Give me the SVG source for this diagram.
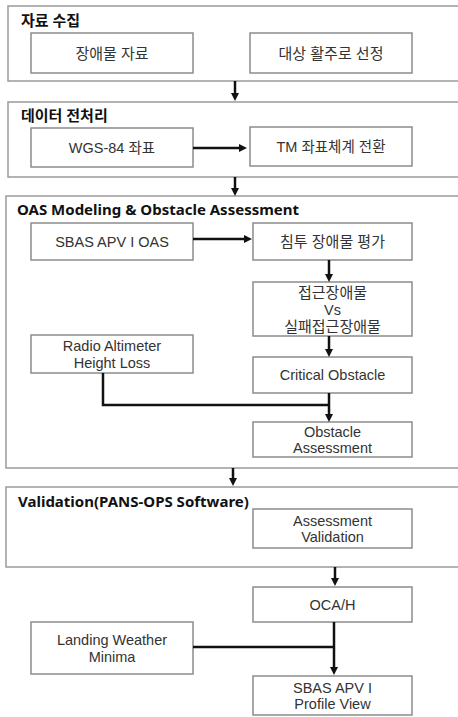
<svg xmlns="http://www.w3.org/2000/svg" width="458" height="717" viewBox="0 0 458 717">
<style>
  .bg { fill: #ffffff; }
  .group { fill: #ffffff; stroke: #9a9a9a; stroke-width: 1.5; }
  .box { fill: #ffffff; stroke: #8c8c8c; stroke-width: 1.5; }
  .title { font-family: "Noto Sans", "Noto Sans CJK KR", sans-serif; font-size: 15px; font-weight: bold; fill: #111111; }
  .lbl { font-family: "Liberation Sans", "Noto Sans CJK KR", sans-serif; font-size: 14.5px; fill: #333333; text-anchor: middle; dominant-baseline: central; }
  .ko { font-size: 15px; }
  .conn { fill: none; stroke: #111111; stroke-width: 2.5; }
</style>
<defs>
  <marker id="ah" viewBox="0 0 8 8" refX="2" refY="4" markerWidth="8" markerHeight="8" markerUnits="userSpaceOnUse" orient="auto">
    <path d="M0,0 L8,4 L0,8 z" fill="#111111"/>
  </marker>
</defs>
<rect class="bg" x="0" y="0" width="458" height="717"/>

<g id="group-collect">
  <rect class="group" x="8" y="6" width="460" height="75"/>
  <text class="title" x="21" y="26">자료 수집</text>
</g>
<g id="group-preprocess">
  <rect class="group" x="8" y="102" width="460" height="75"/>
  <text class="title" x="21" y="121">데이터 전처리</text>
</g>
<g id="group-oas">
  <rect class="group" x="6" y="196" width="462" height="272"/>
  <text class="title" x="17" y="215">OAS Modeling &amp; Obstacle Assessment</text>
</g>
<g id="group-validation">
  <rect class="group" x="6" y="487" width="462" height="80"/>
  <text class="title" x="18" y="507">Validation(PANS-OPS Software)</text>
</g>

<g id="n-obstacle-data">
  <rect class="box" x="31" y="33" width="162" height="40"/>
  <text class="lbl ko" x="112" y="53">장애물 자료</text>
</g>
<g id="n-runway">
  <rect class="box" x="250" y="33" width="162" height="40"/>
  <text class="lbl ko" x="331" y="53">대상 활주로 선정</text>
</g>
<g id="n-wgs84">
  <rect class="box" x="31" y="128" width="162" height="39"/>
  <text class="lbl" x="112" y="147.5">WGS-84 좌표</text>
</g>
<g id="n-tm">
  <rect class="box" x="250" y="127" width="162" height="39"/>
  <text class="lbl" x="331" y="146.5">TM 좌표체계 전환</text>
</g>
<g id="n-sbas-oas">
  <rect class="box" x="31" y="223" width="162" height="37"/>
  <text class="lbl" x="112" y="241.5">SBAS APV I OAS</text>
</g>
<g id="n-penetration">
  <rect class="box" x="253" y="223" width="159" height="37"/>
  <text class="lbl ko" x="332.5" y="241.5">침투 장애물 평가</text>
</g>
<g id="n-approach-vs-missed">
  <rect class="box" x="253" y="282" width="159" height="54"/>
  <text class="lbl ko" x="332.5" y="292.5">접근장애물</text>
  <text class="lbl" x="332.5" y="309.5">Vs</text>
  <text class="lbl ko" x="332.5" y="326.5">실패접근장애물</text>
</g>
<g id="n-radio-altimeter">
  <rect class="box" x="31" y="335" width="162" height="38"/>
  <text class="lbl" x="112" y="345.5">Radio Altimeter</text>
  <text class="lbl" x="112" y="362.5">Height Loss</text>
</g>
<g id="n-critical">
  <rect class="box" x="253" y="357" width="159" height="36"/>
  <text class="lbl" x="332.5" y="375">Critical Obstacle</text>
</g>
<g id="n-obstacle-assessment">
  <rect class="box" x="253" y="422" width="159" height="35"/>
  <text class="lbl" x="332.5" y="431.5">Obstacle</text>
  <text class="lbl" x="332.5" y="448">Assessment</text>
</g>
<g id="n-assessment-validation">
  <rect class="box" x="253" y="509" width="159" height="39"/>
  <text class="lbl" x="332.5" y="520.5">Assessment</text>
  <text class="lbl" x="332.5" y="537">Validation</text>
</g>
<g id="n-ocah">
  <rect class="box" x="253" y="587" width="159" height="35"/>
  <text class="lbl" x="332.5" y="605">OCA/H</text>
</g>
<g id="n-landing-minima">
  <rect class="box" x="31" y="622" width="162" height="52"/>
  <text class="lbl" x="112" y="639.5">Landing Weather</text>
  <text class="lbl" x="112" y="657">Minima</text>
</g>
<g id="n-profile-view">
  <rect class="box" x="253" y="676" width="159" height="39"/>
  <text class="lbl" x="332.5" y="687.5">SBAS APV I</text>
  <text class="lbl" x="332.5" y="704">Profile View</text>
</g>

<g id="connectors">
  <path class="conn" d="M235,81 V95" marker-end="url(#ah)"/>
  <path class="conn" d="M193,148 H241" marker-end="url(#ah)"/>
  <path class="conn" d="M235,177 V190" marker-end="url(#ah)"/>
  <path class="conn" d="M193,239 H246" marker-end="url(#ah)"/>
  <path class="conn" d="M329,260 V276" marker-end="url(#ah)"/>
  <path class="conn" d="M329,336 V351" marker-end="url(#ah)"/>
  <path class="conn" d="M103,373 V405 H329"/>
  <path class="conn" d="M329,393 V416" marker-end="url(#ah)"/>
  <path class="conn" d="M233,468 V480" marker-end="url(#ah)"/>
  <path class="conn" d="M335,567 V580" marker-end="url(#ah)"/>
  <path class="conn" d="M193,647 H334"/>
  <path class="conn" d="M334,622 V669" marker-end="url(#ah)"/>
</g>
</svg>
